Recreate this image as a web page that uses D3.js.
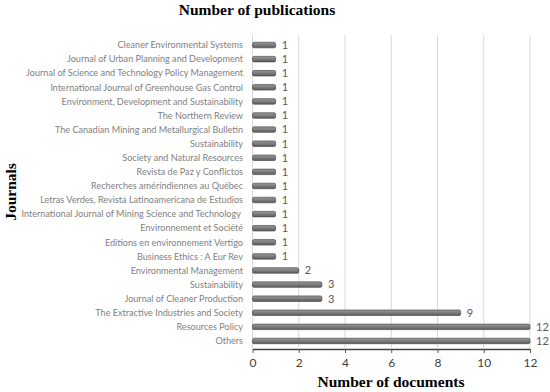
<!DOCTYPE html>
<html>
<head>
<meta charset="utf-8">
<script src="https://cdn.jsdelivr.net/npm/d3@7"></script>
<style>
  body { margin: 0; background: #fff; }
  svg text { font-family: Lato, "Open Sans", sans-serif; }
  .ttl { font-family: "Liberation Serif", "Times New Roman", serif !important; font-weight: bold; }
</style>
</head>
<body>
<div id="chart"></div>
<script>
(function(){
  var width = 550,
    height = 392;

  // journals, top to bottom
  var journals = [
    "Cleaner Environmental Systems",
    "Journal of Urban Planning and Development",
    "Journal of Science and Technology Policy Management",
    "International Journal of Greenhouse Gas Control",
    "Environment, Development and Sustainability",
    "The Northern Review",
    "The Canadian Mining and Metallurgical Bulletin",
    "Sustainability",
    "Society and Natural Resources",
    "Revista de Paz y Conflictos",
    "Recherches amérindiennes au Québec",
    "Letras Verdes, Revista Latinoamericana de Estudios",
    "International Journal of Mining Science and Technology\u00a0",
    "Environnement et Société",
    "Editions en environnement Vertigo",
    "Business Ethics : A Eur Rev",
    "Environmental Management",
    "Sustainability",
    "Journal of Cleaner Production",
    "The Extractive Industries and Society",
    "Resources Policy",
    "Others"
  ];
  var counts = [1, 1, 1, 1, 1, 1, 1, 1, 1, 1, 1, 1, 1, 1, 1, 1, 2, 3, 3, 9, 12, 12];
  var xTicks = [0, 2, 4, 6, 8, 10, 12];

  // "Sustainability" shows up twice, so rows are keyed by position
  var data = journals.map(function(j, i){ return {i: i, name: j, n: counts[i]}; });

  var svg = d3.select("#chart")
    .append("svg")
    .attr("width", width)
    .attr("height", height);

  var x = d3.scaleLinear().domain([0, 12]).range([252.5, 530]);
  var y = d3.scaleBand().domain(d3.range(journals.length)).range([38, 348]);

  // gridlines
  svg.selectAll(".grid")
    .data(xTicks)
    .enter().append("line")
    .attr("x1", function(d){ return x(d); })
    .attr("x2", function(d){ return x(d); })
    .attr("y1", 35)
    .attr("y2", 348)
    .attr("stroke", "#d9d9d9")
    .attr("stroke-width", 1);

  // x axis
  var xAxis = d3.axisBottom(x).tickValues(xTicks).tickSize(4).tickSizeOuter(0).tickPadding(5);
  var ax = svg.append("g")
    .attr("transform", "translate(0,349)")
    .call(xAxis);
  ax.select(".domain").attr("stroke", "#404040").attr("stroke-width", 1.5);
  ax.selectAll(".tick line").attr("stroke", "#595959");
  ax.selectAll(".tick text")
    .attr("fill", "#404040")
    .style("font-size", "12px")
    .style("font-family", "Lato, sans-serif");

  // bars (cylinder look)
  var grad = svg.append("defs").append("linearGradient")
    .attr("id", "cyl").attr("x1", 0).attr("x2", 0).attr("y1", 0).attr("y2", 1);
  grad.append("stop").attr("offset", "0%").attr("stop-color", "#9a9a9a");
  grad.append("stop").attr("offset", "45%").attr("stop-color", "#7f7f7f");
  grad.append("stop").attr("offset", "100%").attr("stop-color", "#5a5a5a");

  var bh = 5.5;
  var bars = svg.selectAll(".bar")
    .data(data)
    .enter().append("g")
    .attr("class", "bar")
    .attr("transform", function(d){ return "translate(0," + (y(d.i) + y.bandwidth() / 2) + ")"; });

  bars.append("rect")
    .attr("x", x(0))
    .attr("y", -bh / 2)
    .attr("width", function(d){ return x(d.n) - x(0); })
    .attr("height", bh)
    .attr("rx", 1.5)
    .attr("fill", "url(#cyl)")
    .attr("stroke", "#4d4d4d")
    .attr("stroke-width", 0.7);

  // value labels
  bars.append("text")
    .attr("x", function(d){ return x(d.n) + 6; })
    .attr("dy", "0.35em")
    .attr("fill", "#595959")
    .style("font-size", "11px")
    .text(function(d){ return d.n; });

  // category labels
  bars.append("text")
    .attr("x", 243)
    .attr("dy", "0.35em")
    .attr("text-anchor", "end")
    .attr("fill", "#7f7f7f")
    .style("font-size", "9.1px")
    .style("white-space", "pre")
    .text(function(d){ return d.name; });

  // titles
  svg.append("text")
    .attr("class", "ttl")
    .attr("x", 257)
    .attr("y", 15)
    .attr("text-anchor", "middle")
    .style("font-size", "15.5px")
    .text("Number of publications");

  svg.append("text")
    .attr("class", "ttl")
    .attr("x", 391)
    .attr("y", 387)
    .attr("text-anchor", "middle")
    .style("font-size", "15.5px")
    .text("Number of documents");

  svg.append("text")
    .attr("class", "ttl")
    .attr("transform", "translate(16,192) rotate(-90)")
    .attr("text-anchor", "middle")
    .style("font-size", "15.5px")
    .text("Journals");
})();
</script>
</body>
</html>
